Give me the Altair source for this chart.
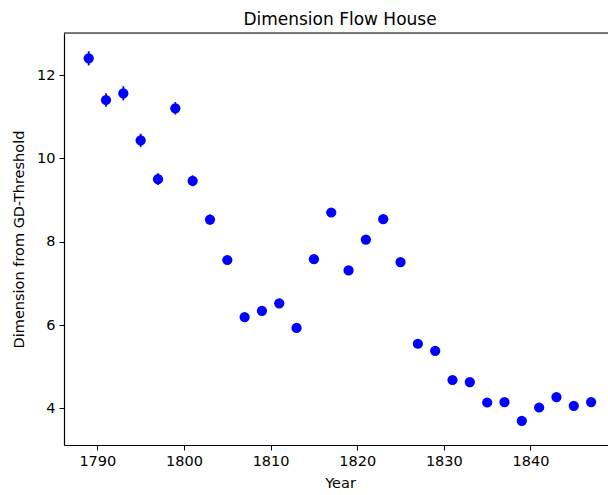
import altair as alt
import pandas as pd

years = list(range(1789, 1848, 2))
dims = [12.40, 11.40, 11.56, 10.43, 9.50, 11.20, 9.46, 8.53, 7.56, 6.19,
        6.34, 6.52, 5.93, 7.58, 8.70, 7.31, 8.05, 8.54, 7.51, 5.55,
        5.38, 4.68, 4.63, 4.14, 4.15, 3.70, 4.02, 4.27, 4.06, 4.15]
errs = [0.17, 0.16, 0.17, 0.16, 0.14, 0.15, 0.13, 0.12, 0.10, 0.09,
        0.09, 0.09, 0.08, 0.09, 0.09, 0.08, 0.08, 0.09, 0.08, 0.07,
        0.07, 0.06, 0.06, 0.06, 0.06, 0.05, 0.05, 0.05, 0.05, 0.05]
x_ticks = [1790, 1800, 1810, 1820, 1830, 1840]
y_ticks = [4, 6, 8, 10, 12]

df = pd.DataFrame({"Year": years, "Dim": dims, "Err": errs})

W, H = 544, 412
FONT = "DejaVu Sans"
FS = 14.5

xscale = alt.Scale(domain=[1786.15, 1848.95], nice=False, zero=False)
yscale = alt.Scale(domain=[3.12, 13.008], nice=False, zero=False)

xaxis = alt.Axis(values=x_ticks, format="d", grid=False, title="Year",
                 labelFont=FONT, labelFontSize=FS, labelColor="black",
                 titleFont=FONT, titleFontSize=FS, titleFontWeight="normal",
                 titleColor="black", tickSize=5, tickColor="black",
                 domainColor="black", domainWidth=1.2, labelPadding=4,
                 titleY=38, titleBaseline="middle", titleAlign="center",
                 titleX=276)
yaxis = alt.Axis(values=y_ticks, grid=False, title="Dimension from GD-Threshold",
                 labelFont=FONT, labelFontSize=FS, labelColor="black",
                 titleFont=FONT, titleFontSize=FS, titleFontWeight="normal",
                 titleColor="black", tickSize=5, tickColor="black",
                 domainColor="black", domainWidth=1.2, labelPadding=4,
                 titleX=-45, titleY=206, titleAngle=-90,
                 titleBaseline="middle", titleAlign="center")

base = alt.Chart(df)

bars = base.transform_calculate(
    lo="datum.Dim - datum.Err", hi="datum.Dim + datum.Err"
).mark_rule(color="#0000ff", strokeWidth=1.8).encode(
    x=alt.X("Year:Q", scale=xscale, axis=xaxis),
    y=alt.Y("lo:Q", scale=yscale, axis=yaxis),
    y2="hi:Q",
)

pts = base.mark_point(filled=True, shape="circle", size=105, color="#0000ff",
                      opacity=1).encode(
    x=alt.X("Year:Q", scale=xscale),
    y=alt.Y("Dim:Q", scale=yscale),
)

top = alt.Chart(pd.DataFrame({"a": [0]})).mark_rule(
    color="black", strokeWidth=1.2
).encode(x=alt.value(0), x2=alt.value(W), y=alt.value(0))

chart = alt.layer(bars, pts, top).properties(
    width=W, height=H,
    title=alt.TitleParams("Dimension Flow House", font=FONT, fontSize=17,
                          fontWeight="normal", color="black", anchor="middle",
                          baseline="alphabetic", offset=9, dx=4, dy=19),
    autosize=alt.AutoSizeParams(type="none"),
    padding={"left": 64, "top": 33, "right": 0, "bottom": 50},
).configure_view(stroke=None).configure(background="white")

chart.save("out.html", embed_options={"renderer": "svg", "actions": False})
